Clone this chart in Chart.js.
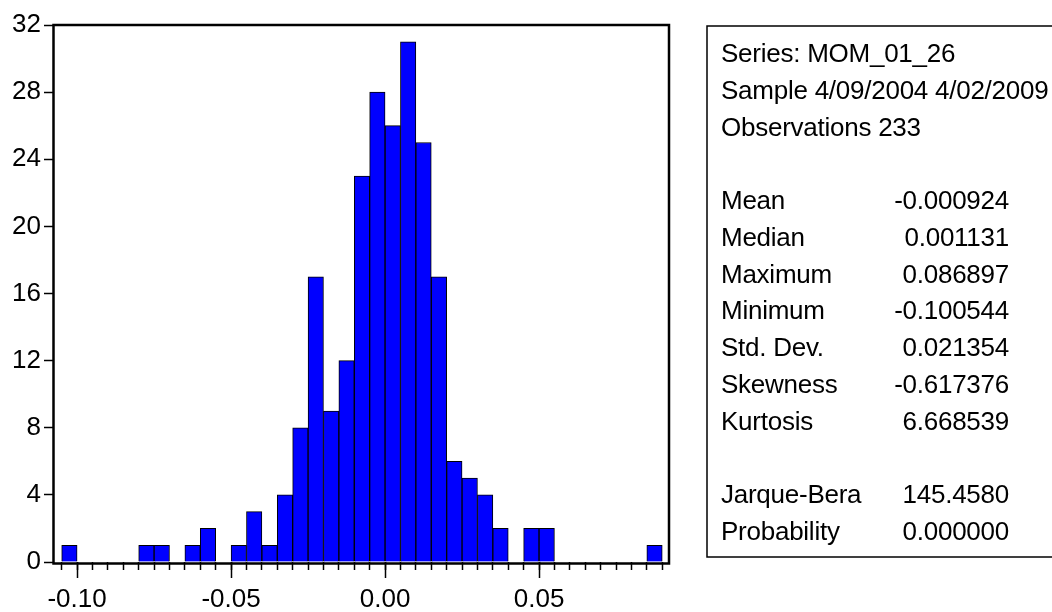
<!DOCTYPE html>
<html>
<head>
<meta charset="utf-8">
<script src="https://cdn.jsdelivr.net/npm/chart.js@4/dist/chart.umd.min.js"></script>
<style>
  body { margin: 0; background: #fff; }
  #wrap { width: 1052px; height: 612px; }
</style>
</head>
<body>
<div id="wrap"><canvas id="histChart"></canvas></div>
<script>
// bin centres (width 0.005) and counts
var binCenters = [-0.1025, -0.0975, -0.0925, -0.0875, -0.0825, -0.0775, -0.0725, -0.0675, -0.0625, -0.0575,
                  -0.0525, -0.0475, -0.0425, -0.0375, -0.0325, -0.0275, -0.0225, -0.0175, -0.0125, -0.0075,
                  -0.0025, 0.0025, 0.0075, 0.0125, 0.0175, 0.0225, 0.0275, 0.0325, 0.0375, 0.0425,
                  0.0475, 0.0525, 0.0575, 0.0625, 0.0675, 0.0725, 0.0775, 0.0825, 0.0875];
var binCounts = [1, 0, 0, 0, 0, 1, 1, 0, 1, 2,
                 0, 1, 3, 1, 4, 8, 17, 9, 12, 23,
                 28, 26, 31, 25, 17, 6, 5, 4, 2, 0,
                 2, 2, 0, 0, 0, 0, 0, 0, 1];
var yTicks = [0, 4, 8, 12, 16, 20, 24, 28, 32];
var xLabelTicks = [-0.10, -0.05, 0.00, 0.05];

var headerLines = ['Series: MOM_01_26', 'Sample 4/09/2004 4/02/2009', 'Observations 233'];
var statNames = ['Mean', 'Median', 'Maximum', 'Minimum', 'Std. Dev.', 'Skewness', 'Kurtosis'];
var statValues = ['-0.000924', '0.001131', '0.086897', '-0.100544', '0.021354', '-0.617376', '6.668539'];
var testNames = ['Jarque-Bera', 'Probability'];
var testValues = ['145.4580', '0.000000'];

var FONT = "'Liberation Sans', Arial, sans-serif";

var points = binCenters.map(function (c, i) { return { x: c, y: binCounts[i] }; });

// frame around the plot area, drawn over the bars
var framePlugin = {
    id: 'frame',
    afterDatasetsDraw: function (chart) {
        var a = chart.chartArea, ctx = chart.ctx;
        ctx.save();
        ctx.strokeStyle = '#000';
        ctx.lineWidth = 2.5;
        ctx.strokeRect(a.left - 0.5, a.top, a.right - a.left + 0.5, a.bottom - a.top + 1.5);
        ctx.restore();
    }
};

// statistics panel to the right
var statsPlugin = {
    id: 'stats',
    afterDraw: function (chart) {
        var ctx = chart.ctx;
        var lines = [];
        headerLines.forEach(function (t) { lines.push([t, '']); });
        lines.push(['', '']);
        statNames.forEach(function (t, i) { lines.push([t, statValues[i]]); });
        lines.push(['', '']);
        testNames.forEach(function (t, i) { lines.push([t, testValues[i]]); });

        ctx.save();
        ctx.strokeStyle = '#000';
        ctx.lineWidth = 1.5;
        ctx.strokeRect(707, 26, 420, 531);
        ctx.fillStyle = '#000';
        ctx.font = '26px ' + FONT;
        ctx.letterSpacing = '-0.25px';
        ctx.textBaseline = 'middle';
        var y0 = 55, step = 36.75;
        lines.forEach(function (l, i) {
            var y = y0 + i * step;
            ctx.textAlign = 'left';
            ctx.fillText(l[0], 721, y);
            if (l[1]) {
                ctx.textAlign = 'right';
                ctx.fillText(l[1], 1009, y);
            }
        });
        ctx.restore();
    }
};

var ctx = document.getElementById('histChart').getContext('2d');
var histChart = new Chart(ctx, {
    type: 'bar',
    data: {
        datasets: [{
            data: points,
            xAxisID: 'x',
            backgroundColor: '#0000FF',
            borderColor: '#000',
            borderWidth: 1,
            barPercentage: 1,
            categoryPercentage: 1
        }]
    },
    options: {
        responsive: true,
        maintainAspectRatio: false,
        animation: false,
        layout: { padding: { left: 0, top: 25, right: 383, bottom: 0 } },
        plugins: { legend: { display: false }, tooltip: { enabled: false } },
        scales: {
            xMinor: {
                type: 'linear',
                position: 'bottom',
                weight: 0,
                offset: false,
                min: -0.1075,
                max: 0.0922,
                afterFit: function (s) { s.height = 0; },
                border: { display: false },
                grid: { offset: false, drawOnChartArea: false, tickLength: 8, tickColor: '#000', tickWidth: 1.5 },
                ticks: { display: false, stepSize: 0.005, includeBounds: false }
            },
            x: {
                type: 'linear',
                position: 'bottom',
                weight: 1,
                offset: false,
                min: -0.1075,
                max: 0.0922,
                afterFit: function (s) { s.height = 50; },
                afterBuildTicks: function (s) {
                    s.ticks = xLabelTicks.map(function (v) { return { value: v }; });
                },
                border: { display: false },
                grid: { offset: false, drawOnChartArea: false, tickLength: 16, tickColor: '#000', tickWidth: 1.5 },
                ticks: {
                    autoSkip: false,
                    maxRotation: 0,
                    padding: 6,
                    color: '#000',
                    font: { family: FONT, size: 26 },
                    callback: function (v) { return Number(v).toFixed(2); }
                }
            },
            y: {
                min: 0,
                max: 32,
                afterFit: function (s) { s.width = 54; },
                afterBuildTicks: function (s) {
                    s.ticks = yTicks.map(function (v) { return { value: v }; });
                },
                border: { display: false },
                grid: { drawOnChartArea: false, tickLength: 10, tickColor: '#000', tickWidth: 1.5 },
                ticks: {
                    padding: 3,
                    color: '#000',
                    font: { family: FONT, size: 26 }
                }
            }
        }
    },
    plugins: [framePlugin, statsPlugin]
});
</script>
</body>
</html>
